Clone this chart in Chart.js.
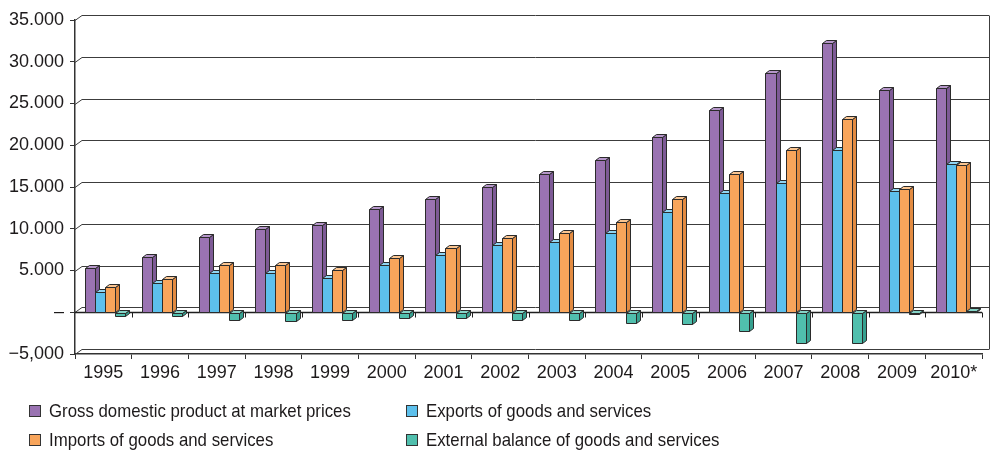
<!DOCTYPE html>
<html>
<head>
<meta charset="utf-8">
<script src="https://cdn.jsdelivr.net/npm/chart.js@4.4.1/dist/chart.umd.min.js"></script>
<style>
  body { margin: 0; background: #fff; }
  #wrap { position: relative; width: 991px; height: 451px; }
  #chart { position: absolute; left: 0; top: 0; }
  .key { position: absolute; font-family: "Liberation Sans", Arial, sans-serif; font-size: 19px; color: #1d1a1b;
         white-space: nowrap; line-height: 20px; transform: scaleX(0.885); transform-origin: 0 0; }
  .box { position: absolute; width: 10px; height: 10px; border: 1px solid #333; }
</style>
</head>
<body>
<div id="wrap">
  <canvas id="chart" width="991" height="451"></canvas>
  <div id="legend"></div>
</div>
<script>
const years = ['1995', '1996', '1997', '1998', '1999', '2000', '2001', '2002',
               '2003', '2004', '2005', '2006', '2007', '2008', '2009', '2010*']

// EUR million
const gdp     = [5250, 6600, 9000, 10000, 10400, 12400, 13600, 15000,
                 16600, 18200, 21000, 24200, 28600, 32300, 26600, 26900]
const exports = [2450, 3500, 4650, 4650, 4050, 5650, 6850, 8050,
                 8450, 9450, 12050, 14250, 15450, 19400, 14550, 17800]
const imports = [3000, 4000, 5600, 5600, 5050, 6500, 7650, 8900,
                 9450, 10850, 13600, 16600, 19400, 23200, 14800, 17600]
const balance = [-450, -450, -900, -1100, -900, -700, -700, -900,
                 -900, -1300, -1450, -2300, -3700, -3700, -150, 200]

const yTickLabels = ['\u22125,000', '\u2013', '5.000', '10.000', '15.000',
                     '20.000', '25.000', '30.000', '35.000']

const seriesNames = ['Gross domestic product at market prices', 'Exports of goods and services',
                     'Imports of goods and services', 'External balance of goods and services']
const faces = [
    { front: '#9a73b2', side: '#7d5a96', top: '#b596c9' },
    { front: '#5dc0ec', side: '#3e9ecb', top: '#8fd5f3' },
    { front: '#f8a55b', side: '#e38b41', top: '#fbc590' },
    { front: '#50bfad', side: '#36a08f', top: '#86d4c7' }
]

const depth = { x: 4, y: 3 }
const wall = { x: 7, y: 5 }
const ink = '#2b2b2b'

function poly(ctx, pts, fill) {
    ctx.beginPath()
    ctx.moveTo(pts[0][0], pts[0][1])
    for (let i = 1; i < pts.length; i++) ctx.lineTo(pts[i][0], pts[i][1])
    ctx.closePath()
    ctx.fillStyle = fill
    ctx.fill()
    ctx.stroke()
}

// back wall, floor line and the bars with side/top faces
const bars3d = {
    id: 'bars3d',
    beforeDatasetsDraw(chart) {
        const ctx = chart.ctx
        const a = chart.chartArea
        const ys = chart.scales.y
        ctx.save()
        ctx.lineWidth = 1
        ctx.strokeStyle = '#3c3c3c'
        ys.ticks.forEach(t => {
            const py = Math.round(ys.getPixelForValue(t.value)) + 0.5
            ctx.beginPath()
            ctx.moveTo(a.left, py)
            ctx.lineTo(a.left + wall.x, py - wall.y)
            ctx.lineTo(a.right + wall.x, py - wall.y)
            ctx.stroke()
        })
        const rx = Math.round(a.right + wall.x) + 0.5
        ctx.beginPath()
        ctx.moveTo(rx, Math.round(ys.getPixelForValue(35000)) + 0.5 - wall.y)
        ctx.lineTo(rx, Math.round(ys.getPixelForValue(-5000)) + 0.5 - wall.y)
        ctx.stroke()

        // front zero line with small ticks between years
        const zy = Math.round(ys.getPixelForValue(0)) + 0.5
        ctx.strokeStyle = '#1e1e1e'
        ctx.lineWidth = 1.5
        ctx.beginPath()
        ctx.moveTo(a.left, zy)
        ctx.lineTo(a.right, zy)
        ctx.stroke()
        ctx.lineWidth = 1
        const step = (a.right - a.left) / years.length
        for (let i = 1; i <= years.length; i++) {
            const tx = Math.round(a.left + step * i) + 0.5
            ctx.beginPath()
            ctx.moveTo(tx, zy)
            ctx.lineTo(tx, zy + 5)
            ctx.stroke()
        }

        ctx.strokeStyle = ink
        ctx.lineWidth = 1
        ctx.lineJoin = 'round'
        const shift = depth.x / 2
        for (let i = 0; i < years.length; i++) {
            for (let d = 0; d < chart.data.datasets.length; d++) {
                const bar = chart.getDatasetMeta(d).data[i]
                const f = faces[d]
                const x0 = Math.round(bar.x - bar.width / 2 + shift) + 0.5
                const x1 = Math.round(bar.x + bar.width / 2 + shift) + 0.5
                const top = Math.round(Math.min(bar.y, bar.base)) + 0.5
                const bot = Math.round(Math.max(bar.y, bar.base)) + 0.5
                poly(ctx, [[x1, top], [x1 + depth.x, top - depth.y], [x1 + depth.x, bot - depth.y], [x1, bot]], f.side)
                poly(ctx, [[x0, top], [x0 + depth.x, top - depth.y], [x1 + depth.x, top - depth.y], [x1, top]], f.top)
                poly(ctx, [[x0, top], [x1, top], [x1, bot], [x0, bot]], f.front)
            }
        }
        ctx.restore()
        return false
    }
}

const tickFont = { family: '"Liberation Sans", Arial, sans-serif', size: 18 }

new Chart(document.getElementById('chart'), {
    type: 'bar',
    data: {
        labels: years,
        datasets: [gdp, exports, imports, balance].map((v, i) => ({
            label: seriesNames[i],
            data: v,
            backgroundColor: faces[i].front,
            borderColor: ink,
            borderWidth: 1,
            categoryPercentage: 0.71,
            barPercentage: 1
        }))
    },
    plugins: [bars3d],
    options: {
        responsive: false,
        animation: false,
        layout: { padding: { top: 20, right: 9, left: 0, bottom: 0 } },
        plugins: { legend: { display: false }, tooltip: { enabled: false } },
        scales: {
            x: {
                afterFit(scale) { scale.height = 97 },
                grid: { offset: true, drawOnChartArea: false, tickLength: 5, color: '#333', lineWidth: 1 },
                border: { color: '#333', width: 1.5 },
                ticks: { font: tickFont, color: '#1d1a1b', padding: 3, maxRotation: 0, autoSkip: false }
            },
            y: {
                min: -5000,
                max: 35000,
                afterFit(scale) { scale.width = 75 },
                grid: { drawOnChartArea: false, tickLength: 5, color: '#333', lineWidth: 1 },
                border: { color: '#333', width: 1.5 },
                ticks: {
                    stepSize: 5000,
                    font: tickFont,
                    color: '#1d1a1b',
                    padding: 6,
                    callback: (v, i) => yTickLabels[i]
                }
            }
        }
    }
})

// two-column legend under the plot
const keyPos = [[29, 405], [406, 405], [29, 434], [406, 434]]
const legend = document.getElementById('legend')
seriesNames.forEach((name, i) => {
    const box = document.createElement('div')
    box.className = 'box'
    box.style.left = keyPos[i][0] + 'px'
    box.style.top = keyPos[i][1] + 'px'
    box.style.background = faces[i].front
    legend.appendChild(box)

    const el = document.createElement('div')
    el.className = 'key'
    el.style.left = (keyPos[i][0] + 20) + 'px'
    el.style.top = (keyPos[i][1] - 4) + 'px'
    el.textContent = name
    legend.appendChild(el)
})
</script>
</body>
</html>
